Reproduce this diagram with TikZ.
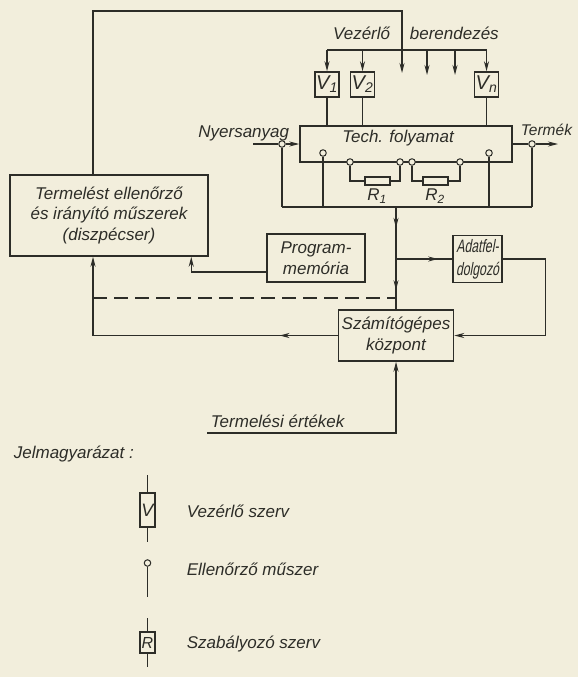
\documentclass[tikz,border=0pt]{standalone}
\usepackage{fontspec}
\setmainfont{Liberation Sans}
\newfontfamily\condfont{Liberation Sans}[FakeStretch=0.68,FakeSlant=0.18]
\usetikzlibrary{positioning,arrows.meta,calc,decorations.markings}
\definecolor{paper}{RGB}{242,238,220}
\definecolor{ink}{RGB}{45,45,40}

\begin{document}
\begin{tikzpicture}[x=1pt,y=-1pt,>={Stealth[length=10pt,width=5pt]},
  line width=1.1pt,color=ink,
  txt/.style={font=\fontsize{17}{20.5}\selectfont\itshape},
  box/.style={draw,line width=1.5pt,inner sep=0pt,txt,align=center},
  vbox/.style={box,minimum width=24pt,minimum height=25pt,font=\fontsize{20}{22}\selectfont\itshape},
  res/.style={draw,line width=1.3pt,minimum width=25pt,minimum height=8pt,inner sep=0pt},
  meas/.style={circle,draw,fill=paper,line width=1pt,minimum size=6.5pt,inner sep=0pt},
  midarr/.style={postaction={decorate},decoration={markings,mark=at position #1 with {\arrow{>}}}}]
\fill[paper] (0,0) rectangle (578,677);
\useasboundingbox (0,0) rectangle (578,677);
% control devices on top of the process
\node[vbox] (V1) at (327,84.5) {V\textsubscript{1}};
\node[vbox] (V2) at (362.5,84.5) {V\textsubscript{2}};
\node[vbox] (Vn) at (486.5,84.5) {V\textsubscript{n}};
\node[txt,anchor=base east] (vezlab) at (394,40) {Vezérlő};
\node[txt,anchor=base west] (berlab) at (406,40) {berendezés};
\coordinate (barL) at (327,50);
\coordinate (barR) at (487,50);
\draw (barL) -- (barR);
\foreach \v in {V1,V2,Vn} {\draw[->] (\v.north |- barL) -- (\v.north);}
\foreach \i/\x in {3/427,4/455} {\coordinate (vb\i) at (\x,50); \coordinate (ve\i) at (\x,75); \draw[->] (vb\i) -- (ve\i);}
% the technological process
\node[box,minimum width=212pt,minimum height=36pt] (tech) at (406,144) {};
\node[txt,anchor=base] (techlab) at (398,142) {Tech. folyamat};
\foreach \v in {V1,V2,Vn} {\draw (\v.south) -- (\v.south |- tech.north);}
\node[res] (R1) at (377.5,181) {};
\node[res] (R2) at (435.5,181) {};
\node[txt] (R1lab) at (377,196) {R\textsubscript{1}};
\node[txt] (R2lab) at (435,196) {R\textsubscript{2}};
\foreach \n/\x/\y in {c0/282/144,c1/323/153,c4/489/153,c5/532/144,r1a/350/162,r1b/400/162,r2a/412/162,r2b/460/162}
  \node[meas] (\n) at (\x,\y) {};
\draw (r1a) |- (R1.west);
\draw (R1.east) -| (r1b);
\draw (r2a) |- (R2.west);
\draw (R2.east) -| (r2b);
\node[txt,anchor=base east] (rawlab) at (293,137) {Nyersanyag};
\node[txt,anchor=base west,font=\fontsize{15.5}{18}\selectfont\itshape] (prodlab) at (517,135) {Termék};
\coordinate (rawin) at (253,144);
\coordinate (prodout) at (558,144);
\draw (rawin) -- (c0);
\draw[->] (c0) -- (tech.west);
\draw (tech.east) -- (c5);
\draw[->] (c5) -- (prodout);
% measuring bus
\coordinate (busL) at (282,207);
\coordinate (busR) at (532,207);
\coordinate (bj) at (396,207);
\coordinate (aj) at (396,259);
\draw (busL) -- (busR);
\draw (c0) -- (busL);
\draw (c5) -- (busR);
\draw (c1) -- (c1 |- busL);
\draw (c4) -- (c4 |- busL);
% dispatcher, program memory, data processing, computer
\node[box,minimum width=198pt,minimum height=81pt] (disp) at (109,215.5) {Termelést ellenőrző\\és irányító műszerek\\(diszpécser)};
\node[box,minimum width=98pt,minimum height=48pt] (prog) at (316,258) {Program-\\memória};
\node[box,minimum width=49pt,minimum height=47pt,font=\condfont\fontsize{18}{23}\selectfont] (adat) at (477.5,259) {Adatfel-\\dolgozó};
\node[box,minimum width=115pt,minimum height=51pt] (comp) at (396,335.5) {Számítógépes\\központ};
\coordinate (loopx) at (93,0);
\coordinate (vtop) at (402,11);
\coordinate (vin) at (402,73);
\draw[->] (disp.north -| loopx) |- (vtop) -- (vin);
\draw[midarr=0.4] (bj) -- (aj);
\draw[midarr=0.62] (aj) -- (comp.north);
\draw[midarr=0.75] (aj) -- (adat.west);
\draw[->] (adat.east) -- ++(43,0) |- (comp.east);
\draw[->,midarr=0.18] (comp.west) -| (disp.south -| loopx);
\draw[->] ([yshift=-14pt]prog.west) -| ([xshift=182pt]disp.south west);
\coordinate (dashL) at (93,298);
\coordinate (dashR) at (396,298);
\draw[dash pattern=on 14pt off 7pt] (dashL) -- (dashR);
\coordinate (valin) at (207,433);
\draw[->] (valin) -| (comp.south);
\node[txt,anchor=base west] (vallab) at (207,427) {Termelési értékek};
% legend
\node[txt,anchor=base west] (legtitle) at (10,458) {Jelmagyarázat :};
\node[box,minimum width=15pt,minimum height=34pt,font=\fontsize{18}{20}\selectfont\itshape] (legV) at (147.5,510) {V};
\coordinate (legVa) at (147.5,475);
\coordinate (legVb) at (147.5,542);
\draw (legVa) -- (legV.north);
\draw (legV.south) -- (legVb);
\node[meas] (legC) at (147.5,563) {};
\coordinate (legCb) at (147.5,597);
\draw (legC) -- (legCb);
\node[box,minimum width=15pt,minimum height=21pt,font=\fontsize{16}{18}\selectfont\itshape] (legR) at (147.5,642.5) {R};
\coordinate (legRa) at (147.5,618);
\coordinate (legRb) at (147.5,667);
\draw (legRa) -- (legR.north);
\draw (legR.south) -- (legRb);
\node[txt,anchor=base west] (legVlab) at (183,517) {Vezérlő szerv};
\node[txt,anchor=base west] (legClab) at (183,575) {Ellenőrző műszer};
\node[txt,anchor=base west] (legRlab) at (183,648) {Szabályozó szerv};
\end{tikzpicture}
\end{document}
